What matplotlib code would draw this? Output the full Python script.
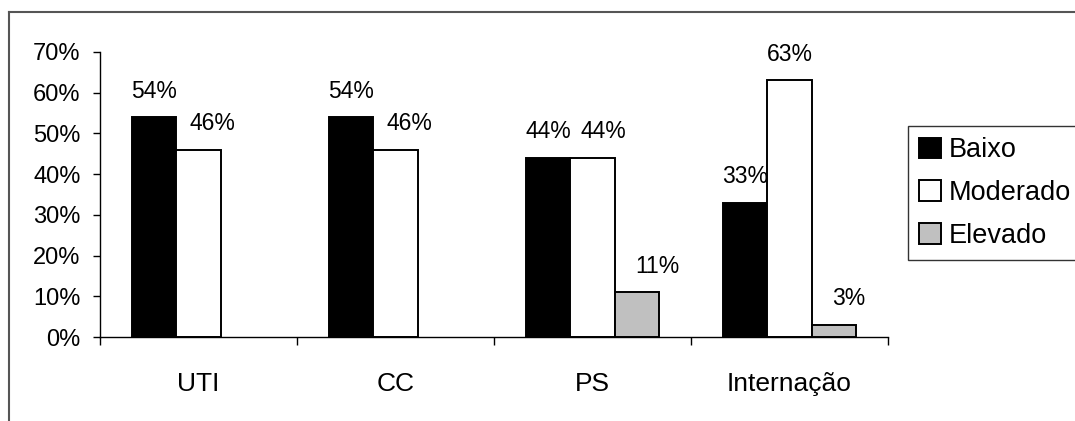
import matplotlib.pyplot as plt
from matplotlib.lines import Line2D
import numpy as np

plt.rcParams['font.family'] = ['Liberation Sans', 'DejaVu Sans']

setores = ['UTI', 'CC', 'PS', 'Internação']
niveis = ['Baixo', 'Moderado', 'Elevado']
baixo = [54, 54, 44, 33]
moderado = [46, 46, 44, 63]
elevado = [None, None, 11, 3]
yticks = [0, 10, 20, 30, 40, 50, 60, 70]

cores = ['black', 'white', '#c0c0c0']
# horizontal nudge of each value label (points)
desloc = [[0, 0, 0, 0], [10, 10, 8, 0], [0, 0, 15, 11]]

fig = plt.figure(figsize=(10.75, 4.21), dpi=100)
ax = fig.add_axes([0.093, 0.1995, 0.733, 0.677])

x = np.arange(len(setores))
w = 0.224
for i, (serie, nome, cor) in enumerate(zip([baixo, moderado, elevado], niveis, cores)):
    vals = np.array([np.nan if v is None else v for v in serie], dtype=float)
    pos = x + (i - 1) * w
    ax.bar(pos, vals, w, color=cor, edgecolor='black', linewidth=1.4, label=nome)
    for xp, v, dx in zip(pos, vals, desloc[i]):
        if np.isnan(v):
            continue
        ax.annotate(f'{v:.0f}%', (xp, v), xytext=(dx, 14), textcoords='offset points',
                    ha='center', va='baseline', fontsize=16.5)

ax.set_ylim(0, 70)
ax.set_xlim(-0.5, len(setores) - 0.5)
ax.set_yticks(yticks)
ax.set_yticklabels([f'{t}%' for t in yticks])
ax.set_xticks(x)
ax.set_xticklabels(setores, fontsize=19)
ax.set_xticks(np.arange(-0.5, len(setores), 1), minor=True)
ax.tick_params(axis='x', which='major', length=0, pad=25)
ax.tick_params(axis='x', which='minor', length=6, width=1, direction='out')
ax.tick_params(axis='y', length=5, width=1, pad=9, labelsize=17)
for s in ['top', 'right']:
    ax.spines[s].set_visible(False)
for s in ['left', 'bottom']:
    ax.spines[s].set_linewidth(1)

leg = ax.legend(loc='upper left', bbox_to_anchor=(908 / 1075, 1 - 126 / 421),
                bbox_transform=fig.transFigure, fontsize=19.5, fancybox=False,
                edgecolor='black', handlelength=0.8, handleheight=0.8,
                handletextpad=0.3, labelspacing=0.62, borderpad=0.42, borderaxespad=0)
leg.get_frame().set_linewidth(1)

# outer chart frame (left and top edges)
x0, y0 = 9 / 1075, 1 - 12 / 421
fig.add_artist(Line2D([x0, x0], [0, y0], transform=fig.transFigure, color='#555555', lw=1.5))
fig.add_artist(Line2D([x0, 1], [y0, y0], transform=fig.transFigure, color='#555555', lw=1.5))

fig.savefig('out.png', dpi=100)
